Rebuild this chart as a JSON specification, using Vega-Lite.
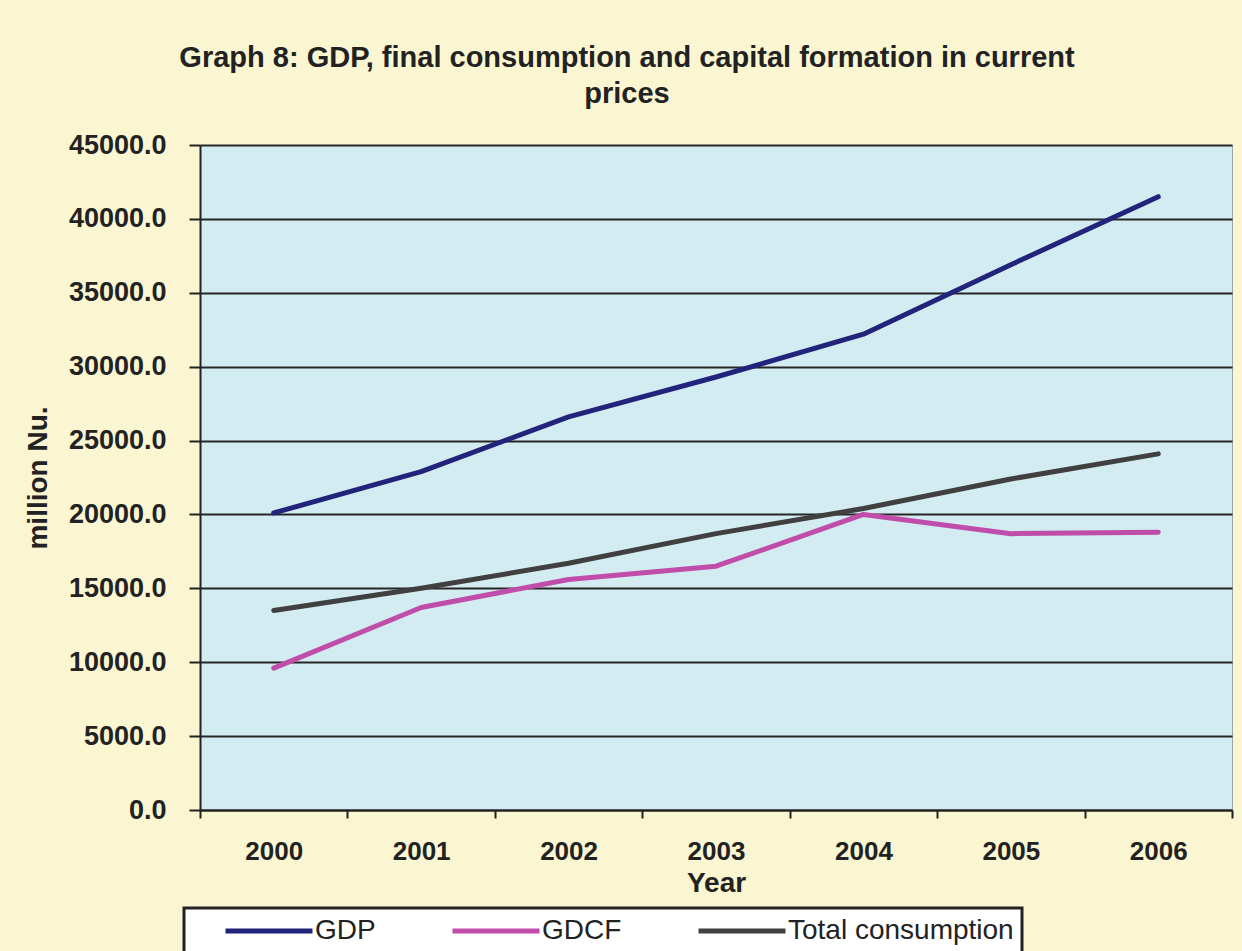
{
  "$schema": "https://vega.github.io/schema/vega-lite/v6.json",
  "autosize": {"type": "none"},
  "width": 1032,
  "height": 665,
  "padding": {"left": 200, "top": 145, "right": 10, "bottom": 141},
  "background": "#FBF6D2",
  "config": {
    "font": "Liberation Sans",
    "view": {"fill": "#D3ECF1", "stroke": "#9aa8ab", "strokeWidth": 1},
    "legend": {"strokeWidth": 3}
  },
  "title": {
    "text": ["Graph 8: GDP, final consumption and capital formation in current", "prices"],
    "font": "Liberation Sans",
    "fontSize": 29,
    "fontWeight": "bold",
    "color": "#222222",
    "anchor": "middle",
    "frame": "group",
    "dx": -89,
    "offset": 22,
    "lineHeight": 36
  },
  "data": {
    "values": [
      {"Year": "2000", "series": "GDP", "value": 20100},
      {"Year": "2001", "series": "GDP", "value": 22900},
      {"Year": "2002", "series": "GDP", "value": 26600},
      {"Year": "2003", "series": "GDP", "value": 29300},
      {"Year": "2004", "series": "GDP", "value": 32200},
      {"Year": "2005", "series": "GDP", "value": 36900},
      {"Year": "2006", "series": "GDP", "value": 41500},
      {"Year": "2000", "series": "GDCF", "value": 9600},
      {"Year": "2001", "series": "GDCF", "value": 13700},
      {"Year": "2002", "series": "GDCF", "value": 15600},
      {"Year": "2003", "series": "GDCF", "value": 16500},
      {"Year": "2004", "series": "GDCF", "value": 20000},
      {"Year": "2005", "series": "GDCF", "value": 18700},
      {"Year": "2006", "series": "GDCF", "value": 18800},
      {"Year": "2000", "series": "Total consumption", "value": 13500},
      {"Year": "2001", "series": "Total consumption", "value": 15000},
      {"Year": "2002", "series": "Total consumption", "value": 16700},
      {"Year": "2003", "series": "Total consumption", "value": 18700},
      {"Year": "2004", "series": "Total consumption", "value": 20400},
      {"Year": "2005", "series": "Total consumption", "value": 22400},
      {"Year": "2006", "series": "Total consumption", "value": 24100}
    ]
  },
  "mark": {"type": "line", "strokeWidth": 5, "strokeCap": "round", "strokeJoin": "round"},
  "encoding": {
    "x": {
      "field": "Year",
      "type": "ordinal",
      "bandPosition": 0.5,
      "scale": {"type": "band", "paddingInner": 0, "paddingOuter": 0},
      "axis": {
        "title": "Year",
        "labelAngle": 0,
        "tickBand": "extent",
        "tickSize": 8,
        "tickWidth": 2,
        "tickColor": "#222222",
        "domainColor": "#222222",
        "domainWidth": 2,
        "labelFont": "Liberation Sans",
        "labelFontSize": 26,
        "labelFontWeight": "bold",
        "labelColor": "#222222",
        "labelPadding": 20,
        "titleFont": "Liberation Sans",
        "titleFontSize": 28,
        "titleFontWeight": "bold",
        "titleColor": "#222222",
        "titlePadding": 5,
        "grid": false
      }
    },
    "y": {
      "field": "value",
      "type": "quantitative",
      "scale": {"domain": [0, 45000], "nice": false},
      "axis": {
        "title": "million Nu.",
        "values": [0, 5000, 10000, 15000, 20000, 25000, 30000, 35000, 40000, 45000],
        "format": ".1f",
        "grid": true,
        "gridColor": "#262626",
        "gridWidth": 2,
        "gridOpacity": 1,
        "tickSize": 11,
        "tickWidth": 2,
        "tickColor": "#222222",
        "domainColor": "#222222",
        "domainWidth": 2,
        "labelFont": "Liberation Sans",
        "labelFontSize": 27,
        "labelFontWeight": "bold",
        "labelColor": "#222222",
        "labelPadding": 23,
        "titleFont": "Liberation Sans",
        "titleFontSize": 28,
        "titleFontWeight": "bold",
        "titleColor": "#222222",
        "titlePadding": 16
      }
    },
    "color": {
      "field": "series",
      "type": "nominal",
      "scale": {
        "domain": ["GDP", "GDCF", "Total consumption"],
        "range": ["#22237A", "#C14DAA", "#404040"]
      },
      "legend": {
        "title": null,
        "orient": "none",
        "direction": "horizontal",
        "legendX": -16,
        "legendY": 763,
        "fillColor": "#FFFFFF",
        "strokeColor": "#222222",
        "padding": 8,
        "clipHeight": 30,
        "symbolType": "stroke",
        "symbolSize": 7569,
        "symbolStrokeWidth": 5,
        "symbolOffset": 31,
        "labelOffset": 0,
        "columnPadding": 43,
        "labelFont": "Liberation Sans",
        "labelFontSize": 28,
        "labelColor": "#222222",
        "labelLimit": 400,
        "labelExpr": "datum.label == 'Total consumption' ? datum.label + '\u00a0\u00a0\u00a0\u00a0' : datum.label"
      }
    }
  }
}
